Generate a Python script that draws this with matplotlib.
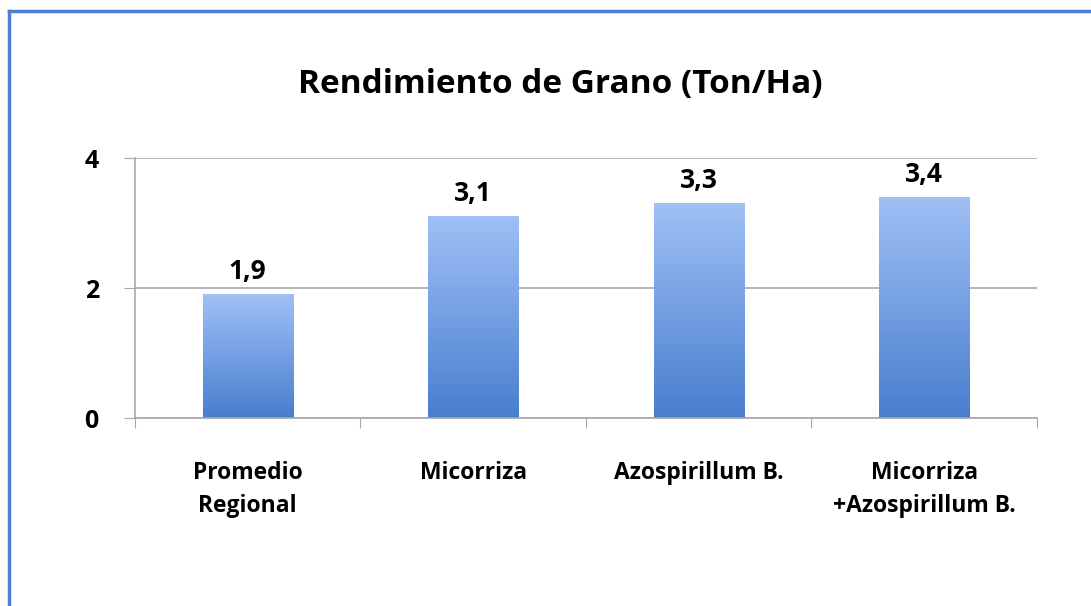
import numpy as np
import matplotlib.pyplot as plt
from matplotlib.lines import Line2D

# data
categories = ["Promedio\nRegional", "Micorriza", "Azospirillum B.", "Micorriza\n+Azospirillum B."]
values = [1.9, 3.1, 3.3, 3.4]
value_labels = ["1,9", "3,1", "3,3", "3,4"]
yticks = [0, 2, 4]

plt.rcParams["font.family"] = ["Open Sans", "DejaVu Sans"]
plt.rcParams["font.weight"] = "bold"

fig = plt.figure(figsize=(10.91, 6.06), dpi=100)
ax = fig.add_axes([0.1237, 0.3102, 0.8268, 0.4290])

x = np.arange(len(categories))
width = 0.4

# vertical gradient: light top, darker bottom
grad = np.linspace(0, 1, 256).reshape(-1, 1)
top = np.array([160, 192, 246]) / 255
bot = np.array([72, 126, 206]) / 255
img = bot[None, None, :] * (1 - grad[..., None]) + top[None, None, :] * grad[..., None]

bars = ax.bar(x, values, width, color="none", edgecolor="none", zorder=2)
for rect in bars:
    x0 = rect.get_x()
    h = rect.get_height()
    ax.imshow(img, extent=[x0, x0 + rect.get_width(), 0, h], origin="lower",
              aspect="auto", zorder=2)

for xi, v, lab in zip(x, values, value_labels):
    ax.annotate(lab, xy=(xi, v), xytext=(0, 11), textcoords="offset points",
                ha="center", va="baseline", fontsize=19, fontweight="bold")

ax.set_xlim(-0.5, len(categories) - 0.5)
ax.set_ylim(0, 4)
ax.set_yticks(yticks)
ax.set_yticklabels([str(t) for t in yticks], fontsize=18, fontweight="bold")
ax.yaxis.grid(True, color="#a8a8a8", linewidth=1.2, zorder=0)
ax.set_axisbelow(True)

# category ticks between bars
ax.set_xticks(np.arange(len(categories) + 1) - 0.5)
ax.set_xticklabels([])
ax.set_xticks(x, minor=True)
ax.set_xticklabels(categories, minor=True, fontsize=16.5, fontweight="bold", linespacing=1.5)
ax.tick_params(axis="x", which="minor", length=0, pad=31)
ax.tick_params(axis="x", which="major", length=7, color="#a8a8a8", direction="out")
ax.tick_params(axis="y", length=8, color="#a8a8a8", pad=18)

for s in ["top", "right"]:
    ax.spines[s].set_visible(False)
for s in ["left", "bottom"]:
    ax.spines[s].set_color("#a8a8a8")
    ax.spines[s].set_linewidth(1.2)

fig.text(0.514, 1 - 93 / 606, "Rendimiento de Grano (Ton/Ha)", ha="center", va="baseline",
         fontsize=24, fontweight="bold")

# blue frame (top and left edges) around the chart
frame = "#4a7fd4"
fig.add_artist(Line2D([9 / 1091, 9 / 1091], [0, 1 - 11 / 606], color=frame, linewidth=2.5))
fig.add_artist(Line2D([9 / 1091, 1], [1 - 11 / 606, 1 - 11 / 606], color=frame, linewidth=2.5))

plt.savefig("out.png", dpi=100)
